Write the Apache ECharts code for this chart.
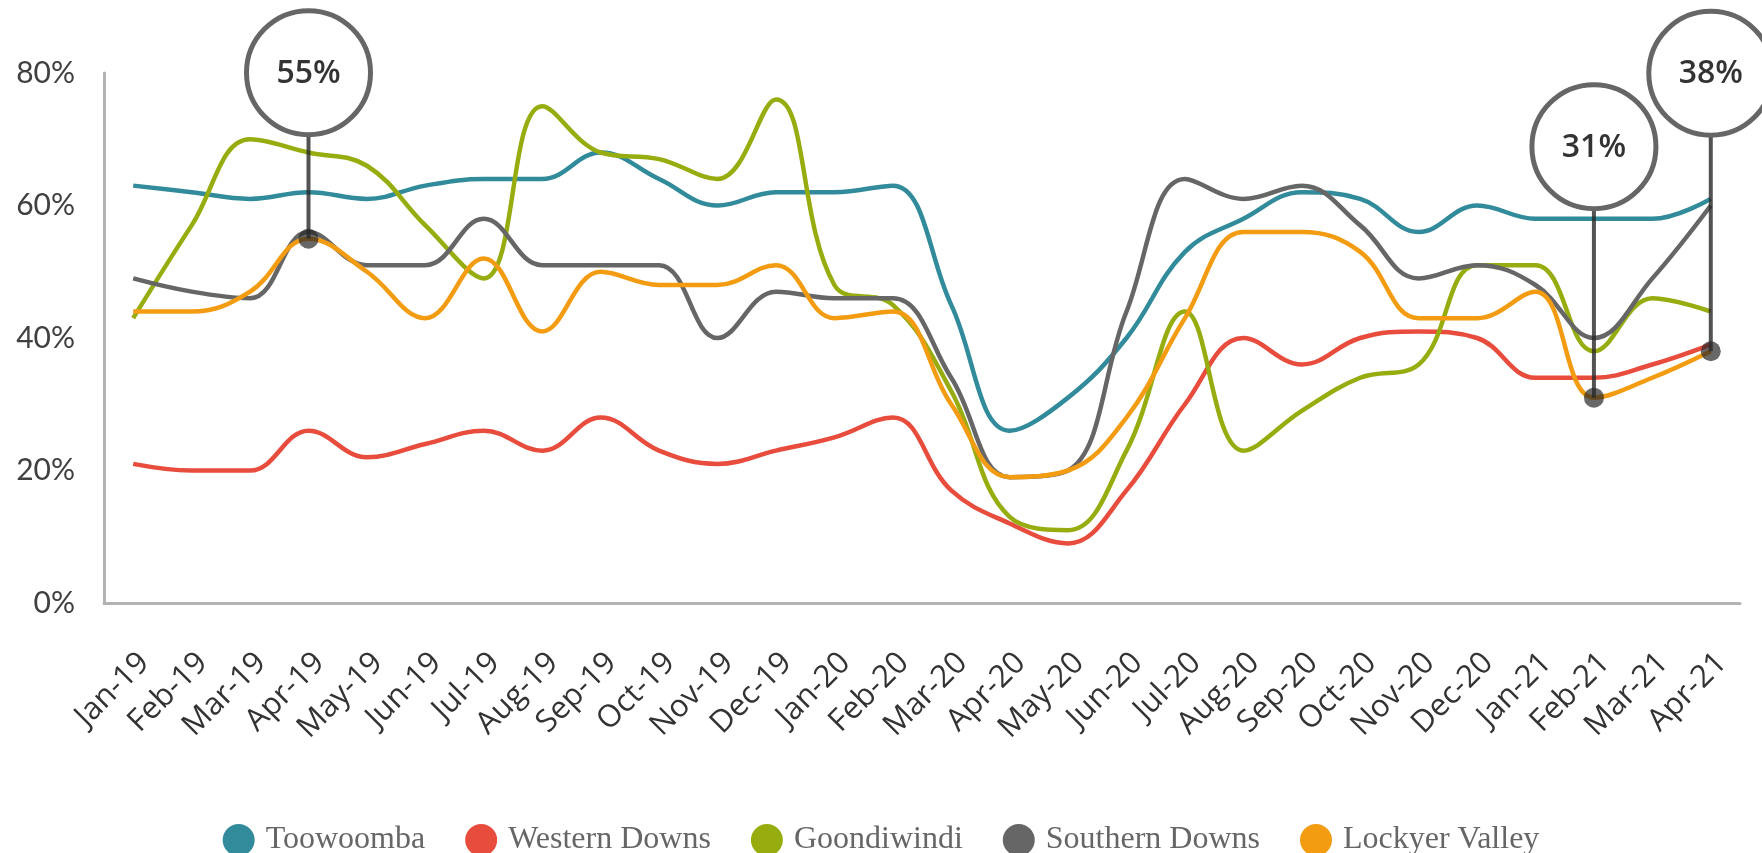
<!DOCTYPE html>
<html>
<head>
<meta charset="utf-8">
<script src="https://cdn.jsdelivr.net/npm/echarts@6/dist/echarts.min.js"></script>
<style>
html,body{margin:0;padding:0;background:#fff;}
#chart{width:1762px;height:853px;}
</style>
</head>
<body>
<div id="chart"></div>
<script>
// ---- data ----
const categories = ['Jan-19','Feb-19','Mar-19','Apr-19','May-19','Jun-19','Jul-19','Aug-19','Sep-19','Oct-19','Nov-19','Dec-19',
  'Jan-20','Feb-20','Mar-20','Apr-20','May-20','Jun-20','Jul-20','Aug-20','Sep-20','Oct-20','Nov-20','Dec-20',
  'Jan-21','Feb-21','Mar-21','Apr-21'];
const toowoomba     = [63,62,61,62,61,63,64,64,68,64,60,62,62,63,45,26,31,40,53,58,62,61,56,60,58,58,58,61];
const westernDowns  = [21,20,20,26,22,24,26,23,28,23,21,23,25,28,17,12,9,17,30,40,36,40,41,40,34,34,36,39];
const goondiwindi   = [43,57,70,68,66,57,49,75,68,67,64,76,48,45,32,13,11,23,44,23,29,34,36,51,51,38,46,44];
const southernDowns = [49,47,46,56,51,51,58,51,51,51,40,47,46,46,34,19,20,44,64,61,63,57,49,51,48,40,49,60];
const lockyerValley = [44,44,47,55,50,43,52,41,50,48,48,51,43,44,30,19,20,28,43,56,56,53,43,43,47,31,34,38];
const seriesNames   = ['Toowoomba','Western Downs','Goondiwindi','Southern Downs','Lockyer Valley'];
const yTicks        = [0,20,40,60,80];
// highlighted Lockyer Valley values
const calloutMonths = ['Apr-19','Feb-21','Apr-21'];
const calloutValues = [55,31,38];

// ---- styling / layout ----
const colors = ['#318b9b','#e84c3d','#97ac0f','#666666','#f39c12'];
const calloutLiftPx = [166,251,278];   // how far above the point each bubble sits
const bubbleR = 62;

const seriesData = [toowoomba, westernDowns, goondiwindi, southernDowns, lockyerValley];

const lineSeries = seriesNames.map((name, i) => ({
  name: name,
  type: 'line',
  data: seriesData[i],
  smooth: 0.4,
  showSymbol: false,
  symbol: 'circle',
  lineStyle: { width: 4.5, color: colors[i] },
  itemStyle: { color: colors[i] },
  z: 2 + i
}));

const calloutSeries = {
  type: 'custom',
  name: 'callouts',
  z: 20,
  silent: true,
  data: calloutMonths.map((m, i) => [m, calloutValues[i]]),
  renderItem: function (params, api) {
    const pt = api.coord([api.value(0), api.value(1)]);
    const lift = calloutLiftPx[params.dataIndex];
    const cx = pt[0], cy = pt[1] - lift;
    return {
      type: 'group',
      children: [
        { type: 'line', shape: { x1: pt[0], y1: pt[1], x2: cx, y2: cy + bubbleR },
          style: { stroke: 'rgba(40,40,40,0.8)', lineWidth: 4 } },
        { type: 'circle', shape: { cx: pt[0], cy: pt[1], r: 10 },
          style: { fill: 'rgba(40,40,40,0.7)' } },
        { type: 'circle', shape: { cx: cx, cy: cy, r: bubbleR },
          style: { fill: '#ffffff', stroke: '#666666', lineWidth: 5 } },
        { type: 'text', x: cx, y: cy + 1,
          style: { text: api.value(1) + '%', fill: '#333333', font: '600 32px "Open Sans"',
                   align: 'center', verticalAlign: 'middle' } }
      ]
    };
  }
};

const chart = echarts.init(document.getElementById('chart'), null, { renderer: 'canvas' });
chart.setOption({
  animation: false,
  color: colors,
  grid: { left: 104, right: 22, top: 73, bottom: 250, containLabel: false },
  legend: {
    data: seriesNames,
    left: 'center',
    top: 819,
    icon: 'circle',
    itemWidth: 32,
    itemHeight: 32,
    itemGap: 40,
    textStyle: { fontFamily: '"Liberation Serif", serif', fontSize: 32, color: '#666666', padding: [0,0,0,6] }
  },
  xAxis: {
    type: 'category',
    data: categories,
    boundaryGap: true,
    axisTick: { show: false },
    axisLine: { lineStyle: { color: '#b3b3b3', width: 3 } },
    axisLabel: {
      interval: 0, rotate: 45, margin: 44,
      fontFamily: '"Open Sans", sans-serif', fontSize: 31, color: '#333333',
      verticalAlign: 'top'
    },
    splitLine: { show: false }
  },
  yAxis: {
    type: 'value',
    min: yTicks[0], max: yTicks[yTicks.length - 1], interval: yTicks[1] - yTicks[0],
    axisLine: { show: true, lineStyle: { color: '#b3b3b3', width: 3 } },
    axisTick: { show: false },
    splitLine: { show: false },
    axisLabel: { formatter: '{value}%', margin: 29, fontFamily: 'Lato, sans-serif', fontSize: 30, color: '#404040' }
  },
  series: lineSeries.concat([calloutSeries])
});
</script>
</body>
</html>
